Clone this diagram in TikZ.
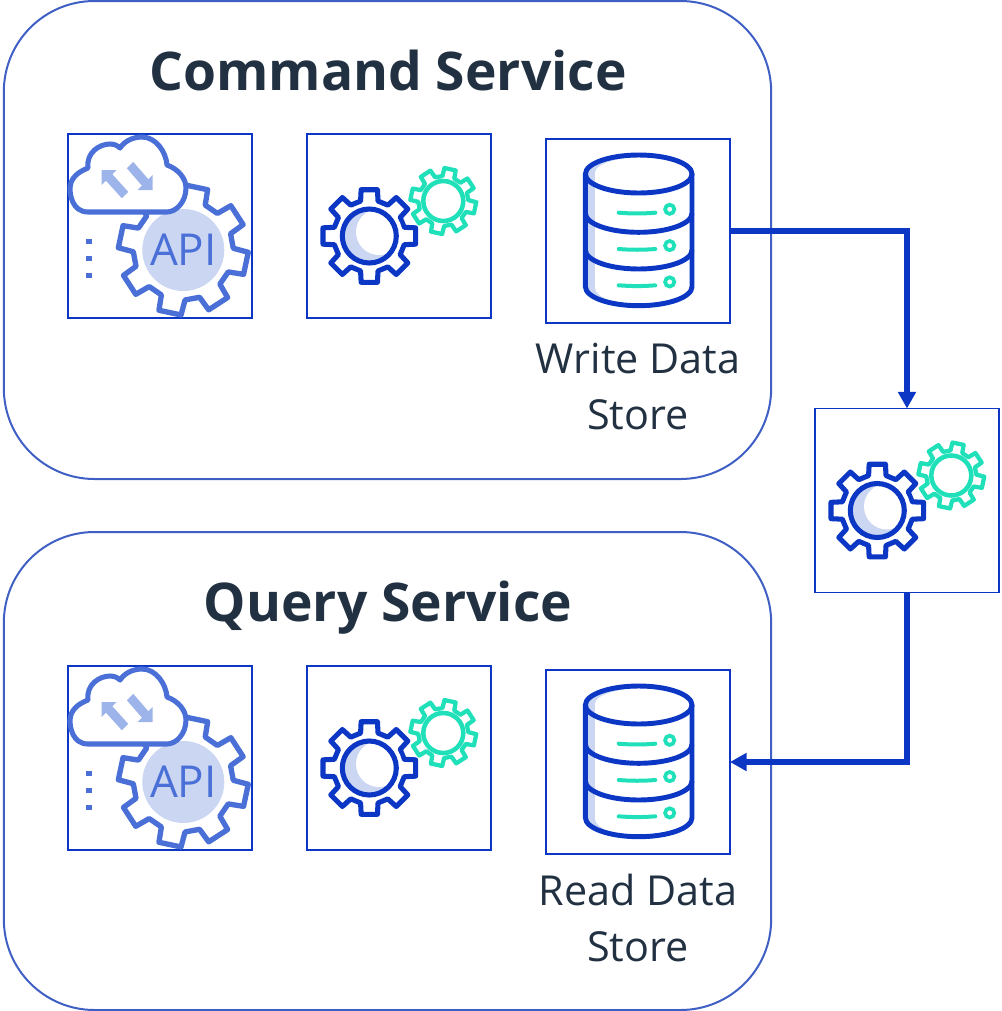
\documentclass[tikz,border=0pt]{standalone}
\usepackage{fontspec}
\usetikzlibrary{arrows.meta}
\setmainfont{Open Sans}
\definecolor{inkblue}{HTML}{0B37C4}
\definecolor{midblue}{HTML}{4A70D8}
\definecolor{paleblue}{HTML}{CBD6F2}
\definecolor{softblue}{HTML}{9DB4EA}
\definecolor{mintgreen}{HTML}{1FE0B8}
\definecolor{framecol}{HTML}{3F5FC4}
\definecolor{textcol}{HTML}{223142}
\tikzset{
    servicebox/.style={draw=framecol,line width=1.5pt,rounded corners=68pt,minimum width=575.5pt,minimum height=358.5pt,outer sep=0pt},
    iconbox/.style={draw=inkblue,line width=1.1pt,minimum width=138pt,minimum height=138pt,outer sep=0pt},
    flow/.style={draw=inkblue,line width=4pt,-{Triangle[length=12.5pt,width=13pt]}},
    servicetitle/.style={font=\fontsize{40}{48}\selectfont\bfseries,text=textcol,anchor=base},
    storelabel/.style={font=\fontsize{31}{42}\selectfont,text=textcol,align=center,anchor=north}
}
\newcommand{\drawgear}[7]{
    \begin{scope}[shift={(#1,#2)}]
        \draw[#5,line width=#6,line join=round,fill=white] ({#7-14}:#3) \foreach \a in {0,45,...,315}{ -- ({\a+#7-14}:#3) -- ({\a+#7-10}:#4) -- ({\a+#7+10}:#4) -- ({\a+#7+14}:#3) } -- cycle;
    \end{scope}
}
\newcommand{\gearsicon}[1]{
    \begin{scope}[shift={(#1.north west)}]
        \drawgear{62.3}{102}{36}{47}{inkblue}{3.8pt}{0}
        \fill[paleblue] (62.3,102) circle[radius=27];
        \fill[white] (72,98) circle[radius=23];
        \draw[inkblue,line width=3.8pt] (62.3,102) circle[radius=27];
        \drawgear{136.3}{67}{25}{33}{mintgreen}{3.2pt}{12}
        \draw[mintgreen,line width=3.4pt] (136.3,67) circle[radius=20];
    \end{scope}
}
\newcommand{\apiicon}[1]{
    \begin{scope}[shift={(#1.north west)}]
        \drawgear{115.3}{116}{50}{65}{midblue}{4pt}{12}
        \fill[paleblue] (115.3,116) circle[radius=41];
        \node[text=midblue,font=\fontsize{33}{33}\selectfont] (#1text) at (115.3,116) {API};
        \draw[midblue,line width=3.8pt,fill=white,line join=round] (20,78) .. controls (4,78) and (2,60) .. (2,55) .. controls (2,44) and (10,38) .. (20,34)
            .. controls (18,18) and (32,10) .. (42,10) .. controls (47,10) and (50,12) .. (52,14)
            .. controls (58,5) and (68,3) .. (74,3) .. controls (88,3) and (98,18) .. (99,31)
            .. controls (110,35) and (118,44) .. (118,54) .. controls (118,68) and (108,78) .. (99,78) -- cycle;
        \fill[softblue] (33.7,36) -- (33.7,51) -- (38,46.7) -- (53.8,64.2) -- (60.2,57.8) -- (44.4,40.3) -- (48.7,36) -- cycle;
        \fill[softblue] (84.7,56) -- (84.7,41) -- (80.4,45.3) -- (65.2,27.8) -- (58.8,34.2) -- (74,51.7) -- (69.7,56) -- cycle;
        \foreach \yy in {107.7,124.3,141.3}
            \fill[midblue] (18.3,\yy-2.7) rectangle (23.7,\yy+2.7);
    \end{scope}
}
\newcommand{\dbicon}[1]{
    \begin{scope}[shift={(#1.north west)}]
        \fill[paleblue] (39.4,35) -- (39.4,147.7) arc[start angle=180,end angle=0,x radius=53.3,y radius=19] -- (146,35) arc[start angle=0,end angle=-180,x radius=53.3,y radius=19] -- cycle;
        \fill[white] (49,40) -- (49,148.7) arc[start angle=180,end angle=0,x radius=48.5,y radius=17.5] -- (146,40) -- (146,34) arc[start angle=0,end angle=-180,x radius=48.5,y radius=16] -- cycle;
        \draw[inkblue,line width=3.7pt] (39.4,35) -- (39.4,147.7) arc[start angle=180,end angle=0,x radius=53.3,y radius=19] -- (146,35);
        \draw[inkblue,line width=3.7pt] (92.7,35) ellipse[x radius=53.3,y radius=19];
        \foreach \yy in {74.3,111}
            \draw[inkblue,line width=3.7pt] (39.4,\yy) arc[start angle=180,end angle=0,x radius=53.3,y radius=19];
        \foreach \yy in {73.7,110,146.3}{
            \draw[mintgreen,line width=3pt,line cap=round] (72.7,\yy) .. controls (85,\yy+1) and (97,\yy+1) .. (109.3,\yy);
            \draw[mintgreen,line width=2.8pt] (123.7,\yy-3.4) circle[radius=4.6];
        }
    \end{scope}
}
\begin{document}
\begin{tikzpicture}[x=0.75pt,y=-0.75pt]
        \useasboundingbox (0,0) rectangle (1002,1011);
        \node[servicebox] (command) at (387.5,240) {};
        \node[servicebox] (query) at (387.5,771) {};
        \node[servicetitle] (commandtitle) at (388,90) {Command Service};
        \node[servicetitle] (querytitle) at (388,621) {Query Service};
        \node[iconbox] (commandapi) at (160,226) {};
        \node[iconbox] (commandgears) at (399,226) {};
        \node[iconbox] (writestore) at (638,231) {};
        \node[iconbox] (queryapi) at (160,758) {};
        \node[iconbox] (querygears) at (399,758) {};
        \node[iconbox] (readstore) at (638,762) {};
        \node[iconbox] (syncgears) at (907,500.5) {};
        \apiicon{commandapi}
        \gearsicon{commandgears}
        \dbicon{writestore}
        \apiicon{queryapi}
        \gearsicon{querygears}
        \dbicon{readstore}
        \gearsicon{syncgears}
        \node[storelabel] (writelabel) at (638,338) {Write Data\\Store};
        \node[storelabel] (readlabel) at (638,869) {Read Data\\Store};
        \draw[flow] (writestore.east) -| (syncgears.north);
        \draw[flow] (syncgears.south) |- (readstore.east);
    \end{tikzpicture}
\end{document}
